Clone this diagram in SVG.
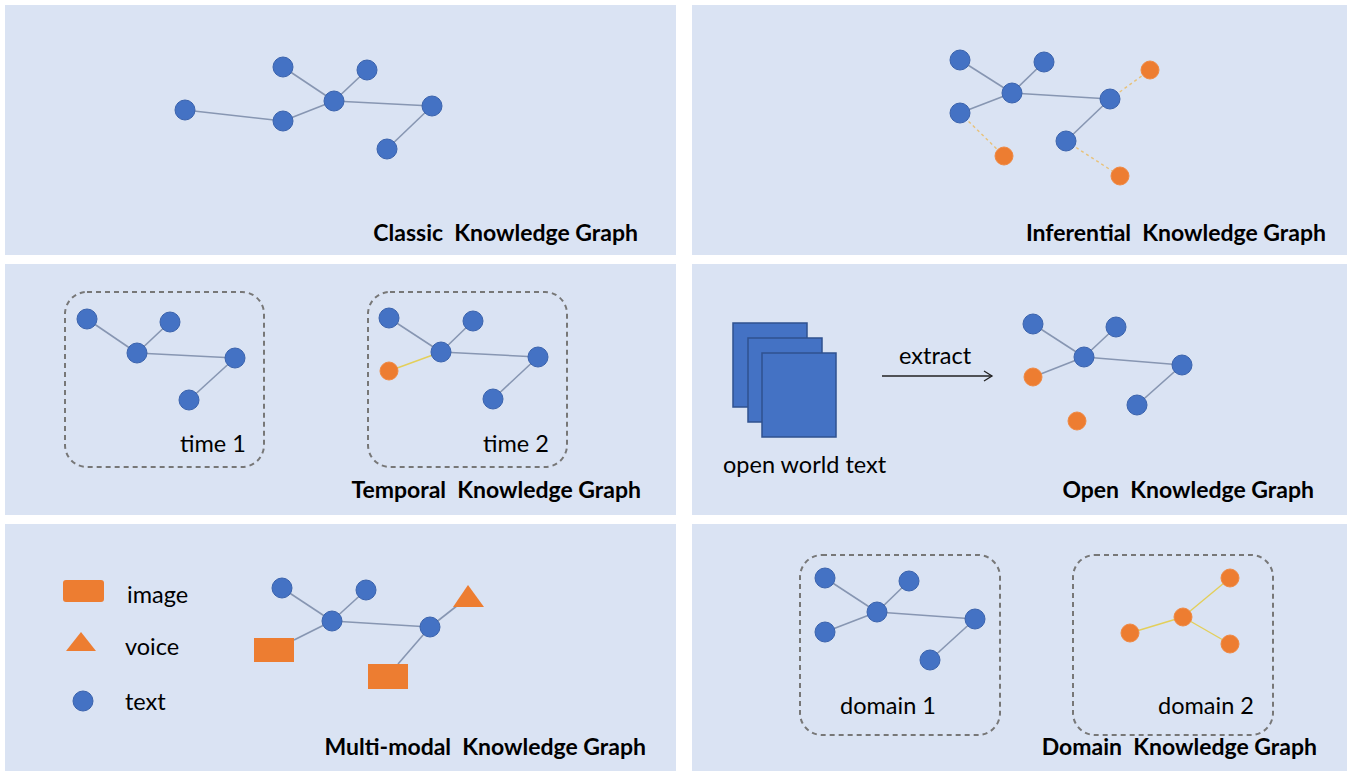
<svg xmlns="http://www.w3.org/2000/svg" width="1349" height="774" viewBox="0 0 1349 774">
<defs>
<style>
.panel{fill:#dae3f3}
.n{fill:#4472c4;stroke:#3b63ad;stroke-width:1}
.o{fill:#ed7d31;stroke:#f08a44;stroke-width:1}
.e{stroke:#8796b2;stroke-width:1.6;fill:none}
.y{stroke:#e3cf5a;stroke-width:1.4;fill:none}
.yd{stroke:#e8c27a;stroke-width:1.4;fill:none;stroke-dasharray:3 3}
.box{fill:none;stroke:#777;stroke-width:2;stroke-dasharray:5 4}
.t{font-family:Lato,"Liberation Sans",sans-serif;font-size:23.5px;fill:#000}
.title{font-family:Lato,"Liberation Sans",sans-serif;font-size:23px;font-weight:bold;fill:#000;text-anchor:end;white-space:pre}
.doc{fill:#4472c4;stroke:#2f528f;stroke-width:1.5}
.sq{fill:#ed7d31}
</style>
<marker id="arr" markerWidth="12" markerHeight="12" refX="10" refY="6" orient="auto" markerUnits="userSpaceOnUse">
<path d="M2,1 L10,6 L2,11" fill="none" stroke="#222" stroke-width="1.3"/>
</marker>
</defs>
<rect width="1349" height="774" fill="#fff"/>
<g id="panels">
<rect class="panel" x="5" y="5" width="671" height="250"/>
<rect class="panel" x="692" y="5" width="655" height="250"/>
<rect class="panel" x="5" y="264" width="671" height="251"/>
<rect class="panel" x="692" y="264" width="655" height="251"/>
<rect class="panel" x="5" y="524" width="671" height="247"/>
<rect class="panel" x="692" y="524" width="655" height="247"/>
</g>
<g id="connectors">
<line class="e" x1="185" y1="110" x2="283" y2="121"/>
<line class="e" x1="283" y1="121" x2="334" y2="101"/>
<line class="e" x1="283" y1="67" x2="334" y2="101"/>
<line class="e" x1="367" y1="70" x2="334" y2="101"/>
<line class="e" x1="334" y1="101" x2="432" y2="106"/>
<line class="e" x1="432" y1="106" x2="387" y2="149"/>
<line class="e" x1="960" y1="60" x2="1012" y2="93"/>
<line class="e" x1="1044" y1="62" x2="1012" y2="93"/>
<line class="e" x1="960" y1="113" x2="1012" y2="93"/>
<line class="e" x1="1012" y1="93" x2="1110" y2="99"/>
<line class="e" x1="1110" y1="99" x2="1066" y2="141"/>
<line class="yd" x1="1110" y1="99" x2="1150" y2="70"/>
<line class="yd" x1="960" y1="113" x2="1004" y2="156"/>
<line class="yd" x1="1066" y1="141" x2="1120" y2="176"/>
<line class="e" x1="87" y1="319" x2="137" y2="353"/>
<line class="e" x1="170" y1="322" x2="137" y2="353"/>
<line class="e" x1="137" y1="353" x2="235" y2="358"/>
<line class="e" x1="235" y1="358" x2="189" y2="400"/>
<line class="e" x1="389" y1="318" x2="441" y2="352"/>
<line class="e" x1="473" y1="321" x2="441" y2="352"/>
<line class="e" x1="441" y1="352" x2="538" y2="357"/>
<line class="e" x1="538" y1="357" x2="493" y2="399"/>
<line class="y" x1="389" y1="371" x2="441" y2="352"/>
<line x1="882" y1="376" x2="992" y2="376" stroke="#222" stroke-width="1.3" marker-end="url(#arr)"/>
<line class="e" x1="1033" y1="324" x2="1084" y2="357"/>
<line class="e" x1="1116" y1="327" x2="1084" y2="357"/>
<line class="e" x1="1033" y1="377" x2="1084" y2="357"/>
<line class="e" x1="1084" y1="357" x2="1182" y2="365"/>
<line class="e" x1="1182" y1="365" x2="1137" y2="405"/>
<line class="e" x1="282" y1="588" x2="332" y2="621"/>
<line class="e" x1="366" y1="590" x2="332" y2="621"/>
<line class="e" x1="332" y1="621" x2="294" y2="640"/>
<line class="e" x1="332" y1="621" x2="430" y2="627"/>
<line class="e" x1="430" y1="627" x2="458" y2="605"/>
<line class="e" x1="430" y1="627" x2="398" y2="664"/>
<line class="e" x1="825" y1="578" x2="877" y2="612"/>
<line class="e" x1="909" y1="581" x2="877" y2="612"/>
<line class="e" x1="825" y1="632" x2="877" y2="612"/>
<line class="e" x1="877" y1="612" x2="975" y2="619"/>
<line class="e" x1="975" y1="619" x2="930" y2="660"/>
<line class="y" x1="1183" y1="617" x2="1230" y2="578"/>
<line class="y" x1="1183" y1="617" x2="1130" y2="633"/>
<line class="y" x1="1183" y1="617" x2="1230" y2="644"/>
</g>
<g id="classic">
<circle class="n" cx="185" cy="110" r="10"/>
<circle class="n" cx="283" cy="67" r="10"/>
<circle class="n" cx="367" cy="70" r="10"/>
<circle class="n" cx="334" cy="101" r="10"/>
<circle class="n" cx="283" cy="121" r="10"/>
<circle class="n" cx="432" cy="106" r="10"/>
<circle class="n" cx="387" cy="149" r="10"/>
<text class="title" x="638" y="241" xml:space="preserve">Classic  Knowledge Graph</text>
</g>
<g id="inferential">
<circle class="n" cx="960" cy="60" r="10"/>
<circle class="n" cx="1044" cy="62" r="10"/>
<circle class="n" cx="1012" cy="93" r="10"/>
<circle class="n" cx="960" cy="113" r="10"/>
<circle class="n" cx="1110" cy="99" r="10"/>
<circle class="n" cx="1066" cy="141" r="10"/>
<circle class="o" cx="1150" cy="70" r="9"/>
<circle class="o" cx="1004" cy="156" r="9"/>
<circle class="o" cx="1120" cy="176" r="9"/>
<text class="title" x="1326" y="241" xml:space="preserve">Inferential  Knowledge Graph</text>
</g>
<g id="temporal">
<rect class="box" x="65" y="292" width="199" height="175" rx="22"/>
<rect class="box" x="368" y="292" width="199" height="175" rx="22"/>
<circle class="n" cx="87" cy="319" r="10"/>
<circle class="n" cx="170" cy="322" r="10"/>
<circle class="n" cx="137" cy="353" r="10"/>
<circle class="n" cx="235" cy="358" r="10"/>
<circle class="n" cx="189" cy="400" r="10"/>
<circle class="n" cx="389" cy="318" r="10"/>
<circle class="n" cx="473" cy="321" r="10"/>
<circle class="n" cx="441" cy="352" r="10"/>
<circle class="n" cx="538" cy="357" r="10"/>
<circle class="n" cx="493" cy="399" r="10"/>
<circle class="o" cx="389" cy="371" r="9"/>
<text class="t" x="180" y="452">time 1</text>
<text class="t" x="483" y="452">time 2</text>
<text class="title" x="641" y="498" xml:space="preserve">Temporal  Knowledge Graph</text>
</g>
<g id="open">
<rect class="doc" x="733" y="323" width="74" height="84"/>
<rect class="doc" x="748" y="338" width="74" height="84"/>
<rect class="doc" x="762" y="353" width="74" height="84"/>
<text class="t" x="723" y="473">open world text</text>
<text class="t" x="899" y="364">extract</text>
<circle class="n" cx="1033" cy="324" r="10"/>
<circle class="n" cx="1116" cy="327" r="10"/>
<circle class="n" cx="1084" cy="357" r="10"/>
<circle class="n" cx="1182" cy="365" r="10"/>
<circle class="n" cx="1137" cy="405" r="10"/>
<circle class="o" cx="1033" cy="377" r="9"/>
<circle class="o" cx="1077" cy="421" r="9"/>
<text class="title" x="1314" y="498" xml:space="preserve">Open  Knowledge Graph</text>
</g>
<g id="multimodal">
<rect class="sq" x="63" y="580" width="41" height="22" rx="3"/>
<polygon class="sq" points="81,632 96,651 66,651"/>
<circle class="n" cx="83" cy="701" r="10"/>
<text class="t" x="127" y="603">image</text>
<text class="t" x="125" y="655">voice</text>
<text class="t" x="125" y="710">text</text>
<circle class="n" cx="282" cy="588" r="10"/>
<circle class="n" cx="366" cy="590" r="10"/>
<circle class="n" cx="332" cy="621" r="10"/>
<circle class="n" cx="430" cy="627" r="10"/>
<polygon class="sq" points="468,585 484,607 453,607"/>
<rect class="sq" x="254" y="638" width="40" height="24"/>
<rect class="sq" x="368" y="664" width="40" height="25"/>
<text class="title" x="646" y="755" xml:space="preserve">Multi-modal  Knowledge Graph</text>
</g>
<g id="domain">
<rect class="box" x="800" y="555" width="200" height="180" rx="22"/>
<rect class="box" x="1073" y="555" width="200" height="180" rx="22"/>
<circle class="n" cx="825" cy="578" r="10"/>
<circle class="n" cx="909" cy="581" r="10"/>
<circle class="n" cx="877" cy="612" r="10"/>
<circle class="n" cx="825" cy="632" r="10"/>
<circle class="n" cx="975" cy="619" r="10"/>
<circle class="n" cx="930" cy="660" r="10"/>
<circle class="o" cx="1230" cy="578" r="9"/>
<circle class="o" cx="1183" cy="617" r="9"/>
<circle class="o" cx="1130" cy="633" r="9"/>
<circle class="o" cx="1230" cy="644" r="9"/>
<text class="t" x="840" y="714">domain 1</text>
<text class="t" x="1158" y="714">domain 2</text>
<text class="title" x="1317" y="755" xml:space="preserve">Domain  Knowledge Graph</text>
</g>
</svg>
